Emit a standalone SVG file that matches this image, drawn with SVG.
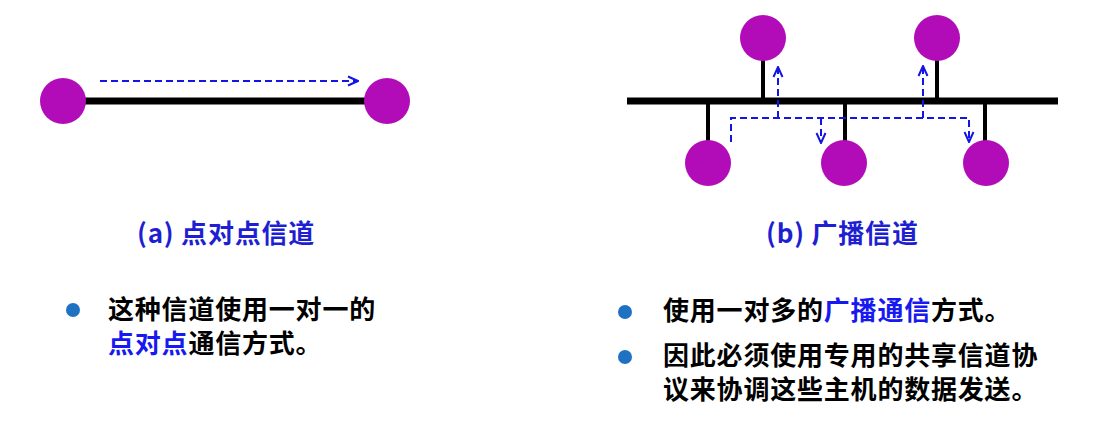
<svg xmlns="http://www.w3.org/2000/svg" width="1114" height="428" viewBox="0 0 1114 428">
<defs>
<style>
.host{fill:#b20cb8;}
.wire{stroke:#000;stroke-width:7;fill:none;}
.stem{stroke:#000;stroke-width:4;fill:none;}
.flow{stroke:#1414e6;stroke-width:2;stroke-dasharray:7 4;fill:none;}
.t{font-family:"Noto Sans CJK SC","Noto Sans",sans-serif;font-weight:bold;font-size:26px;letter-spacing:0.8px;fill:#000;}
.h{fill:#1f1fd2;}
.hl{fill:#1818f0;}
.dot{fill:#1f72c2;}
</style>
<marker id="arr" viewBox="0 0 12 12" refX="11" refY="6" markerWidth="12" markerHeight="12" markerUnits="userSpaceOnUse" orient="auto">
<path d="M1,1.5 L11,6 L1,10.5" fill="none" stroke="#1414e6" stroke-width="2"/>
</marker>
</defs>
<rect width="1114" height="428" fill="#fff"/>

<g id="connectors">
<line class="wire" x1="63" y1="101" x2="387" y2="101"/>
<line class="flow" x1="100" y1="81" x2="358" y2="81" marker-end="url(#arr)"/>
<line class="wire" x1="627" y1="101" x2="1058" y2="101"/>
<line class="stem" x1="763" y1="55" x2="763" y2="101"/>
<line class="stem" x1="937" y1="55" x2="937" y2="101"/>
<line class="stem" x1="708" y1="101" x2="708" y2="145"/>
<line class="stem" x1="845" y1="101" x2="845" y2="145"/>
<line class="stem" x1="985" y1="101" x2="985" y2="145"/>
<path class="flow" d="M731,142 V118 H969 V142" marker-end="url(#arr)"/>
<line class="flow" x1="778" y1="118" x2="778" y2="67" marker-end="url(#arr)"/>
<line class="flow" x1="821" y1="118" x2="821" y2="143" marker-end="url(#arr)"/>
<line class="flow" x1="923" y1="118" x2="923" y2="66" marker-end="url(#arr)"/>
</g>

<g id="a-host-left"><circle class="host" cx="63" cy="101" r="23"/></g>
<g id="a-host-right"><circle class="host" cx="387" cy="101" r="23"/></g>
<g id="b-host-top1"><circle class="host" cx="763" cy="38" r="23"/></g>
<g id="b-host-top2"><circle class="host" cx="937" cy="38" r="23"/></g>
<g id="b-host-bot1"><circle class="host" cx="708" cy="163" r="23"/></g>
<g id="b-host-bot2"><circle class="host" cx="844" cy="163" r="23"/></g>
<g id="b-host-bot3"><circle class="host" cx="986" cy="163" r="23"/></g>

<g id="caption-a"><text class="t h" x="137" y="243">(a) 点对点信道</text></g>
<g id="caption-b"><text class="t h" x="766" y="243">(b) 广播信道</text></g>

<g id="bullets-a">
<circle class="dot" cx="73" cy="310" r="7"/>
<text class="t" x="108" y="319">这种信道使用一对一的</text>
<text class="t" x="108" y="353"><tspan class="hl">点对点</tspan>通信方式。</text>
</g>

<g id="bullets-b">
<circle class="dot" cx="625" cy="312" r="7"/>
<text class="t" x="663" y="320">使用一对多的<tspan class="hl">广播通信</tspan>方式。</text>
<circle class="dot" cx="625" cy="357" r="7"/>
<text class="t" x="663" y="365">因此必须使用专用的共享信道协</text>
<text class="t" x="663" y="399">议来协调这些主机的数据发送。</text>
</g>
</svg>
